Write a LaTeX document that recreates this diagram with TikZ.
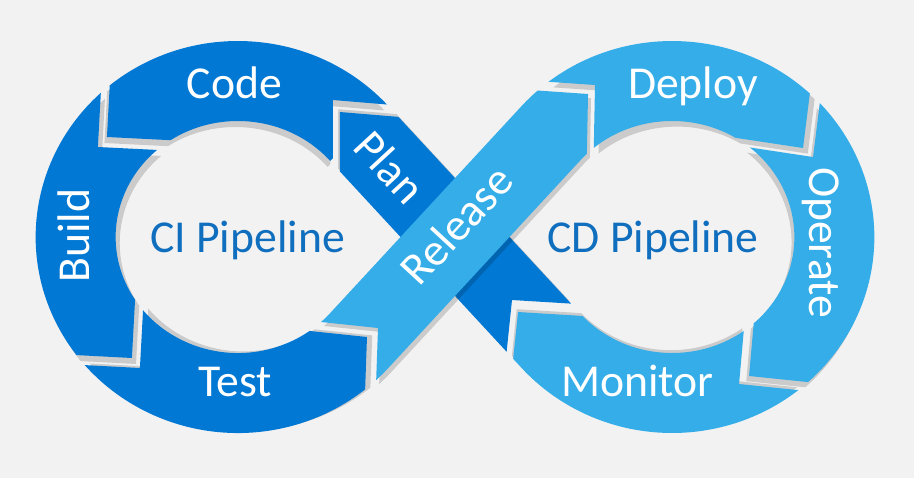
\documentclass[tikz,border=0pt]{standalone}
\usepackage{fontspec}
\setmainfont{Carlito}
\usepackage{xcolor}
\usepackage{tikz}
\usetikzlibrary{calc}

\definecolor{bg}{HTML}{F2F2F2}
\definecolor{ciblue}{HTML}{0078D4}
\definecolor{cdblue}{HTML}{35ADE8}
\definecolor{pipeblue}{HTML}{106EBE}

\tikzset{
  band/.style={line width=1.6cm, line cap=butt},
  gapshadow/.style={band, draw=black, draw opacity=.16},
  stagetext/.style={text=white, font=\fontsize{26}{30}\selectfont, inner sep=0pt},
  pipetext/.style={text=pipeblue, font=\fontsize{26}{30}\selectfont, inner sep=0pt},
}

% chevron between two stages: name, tip corner, outer leg, inner leg, gap
\newcommand\junction[5]{%
  \coordinate (#1-t) at #2;
  \coordinate (#1-n) at ($#2+#5$);
  \coordinate (#1-to) at ($(#1-t)+2.2*#3$);
  \coordinate (#1-ti) at ($(#1-t)+1.5*#4$);
  \coordinate (#1-no) at ($(#1-n)+2.2*#3$);
  \coordinate (#1-ni) at ($(#1-n)+1.5*#4$);
}
\newcommand\piece[3]{%
  \begin{scope}
    \clip #2;
    \draw[band, draw=#1] #3;
  \end{scope}}
\newcommand\pieceshadow[4]{%
  \begin{scope}[transform canvas={shift={(#1,#2)}}]
    \clip #3;
    \draw[gapshadow] #4;
  \end{scope}}

\begin{document}
\begin{tikzpicture}[x=0.02cm, y=0.02cm]
  \useasboundingbox (-455,-241) rectangle (459,237);
  \fill[bg] (-455,-241) rectangle (459,237);

  \begin{scope}[xscale=1.04]
    \coordinate (Lc) at (-208.7,0);
    \coordinate (Rc) at (208.7,0);

    \junction{pc}{(-110.6,125)}{(57.7,-5)}{(0,-60)}{(-6.7,12)}
    \junction{cb}{(-334.6,100)}{(2.9,55)}{(57.7,-3)}{(-8.7,-10)}
    \junction{bt}{(-310.6,-121)}{(-54.8,3)}{(2.9,55)}{(7.7,-10)}
    \junction{tr}{(-84.6,-100)}{(-1.9,-56)}{(-54.8,6)}{(10.6,9)}
    \junction{rd}{(127.9,143)}{(-55.8,4)}{(-1,-53)}{(6.7,9)}
    \junction{do}{(334.6,89)}{(6.7,56)}{(-70.2,11)}{(9.6,-9)}
    \junction{om}{(282.7,-139)}{(55.8,-6)}{(4.8,57)}{(-9.6,-8)}
    \junction{mp}{(60.6,-75)}{(-4.8,-48)}{(47.1,-3)}{(-5.8,12)}

    \def\planclip{(mp-no) -- (mp-n) -- (mp-ni) -- (pc-to) -- (pc-t) -- (pc-ti) -- cycle}
    \def\codeclip{(pc-no) -- (pc-n) -- (pc-ni) -- (Lc) -- (cb-ti) -- (cb-t) -- (cb-to) -- ($(Lc)+(95:400)$) -- cycle}
    \def\buildclip{(cb-no) -- (cb-n) -- (cb-ni) -- (Lc) -- (bt-ti) -- (bt-t) -- (bt-to) -- ($(Lc)+(175:400)$) -- cycle}
    \def\testclip{(bt-no) -- (bt-n) -- (bt-ni) -- (Lc) -- (tr-ti) -- (tr-t) -- (tr-to) -- ($(Lc)+(265:400)$) -- cycle}
    \def\releaseclip{(tr-no) -- (tr-n) -- (tr-ni) -- (rd-to) -- (rd-t) -- (rd-ti) -- cycle}
    \def\deployclip{(rd-no) -- (rd-n) -- (rd-ni) -- (Rc) -- (do-ti) -- (do-t) -- (do-to) -- ($(Rc)+(85:400)$) -- cycle}
    \def\operateclip{(do-no) -- (do-n) -- (do-ni) -- (Rc) -- (om-ti) -- (om-t) -- (om-to) -- ($(Rc)+(5:400)$) -- cycle}
    \def\monitorclip{(om-no) -- (om-n) -- (om-ni) -- (Rc) -- (mp-ti) -- (mp-t) -- (mp-to) -- ($(Rc)+(275:400)$) -- cycle}

    \def\planline{(Rc) ++(-120:156) arc[start angle=-120, end angle=-138.4, radius=156] -- ($(Lc)+(41.6:156)$) arc[start angle=41.6, end angle=62, radius=156]}
    \def\codeline{(Lc) ++(41.6:156) arc[start angle=41.6, end angle=160, radius=156]}
    \def\buildline{(Lc) ++(120:156) arc[start angle=120, end angle=245, radius=156]}
    \def\testline{(Lc) ++(200:156) arc[start angle=200, end angle=318.4, radius=156] -- ++(25,28.2)}
    \def\releaseline{(Lc) ++(300:156) arc[start angle=300, end angle=318.4, radius=156] -- ($(Rc)+(138.4:156)$) arc[start angle=138.4, end angle=110, radius=156]}
    \def\deployline{(Rc) ++(138.4:156) arc[start angle=138.4, end angle=15, radius=156]}
    \def\operateline{(Rc) ++(65:156) arc[start angle=65, end angle=-85, radius=156]}
    \def\monitorline{(Rc) ++(-40:156) arc[start angle=-40, end angle=-138.4, radius=156] -- ++(-40,45)}

    \foreach \sx/\sy/\clp/\ln in {-1.7/2.8/\planclip/\planline, -2.5/-6/\codeclip/\codeline,
        4.1/-6/\buildclip/\buildline, 5.2/1.6/\testclip/\testline,
        4.8/-5.6/\deployclip/\deployline, -2.8/-5.2/\operateclip/\operateline,
        -1.3/2.8/\monitorclip/\monitorline}
      {\pieceshadow{\sx}{\sy}{\clp}{\ln}}
    \foreach \col/\clp/\ln in {ciblue/\planclip/\planline, ciblue/\codeclip/\codeline,
        ciblue/\buildclip/\buildline, ciblue/\testclip/\testline,
        cdblue/\deployclip/\deployline, cdblue/\operateclip/\operateline,
        cdblue/\monitorclip/\monitorline}
      {\piece{\col}{\clp}{\ln}}
    \pieceshadow{3}{-4}{\releaseclip}{\releaseline}
    \piece{cdblue}{\releaseclip}{\releaseline}
  \end{scope}

  \node[stagetext, anchor=base] (code) at (-220.5,139) {Code};
  \node[stagetext, anchor=base] (deploy) at (238,139) {Deploy};
  \node[stagetext, anchor=base] (test) at (-220,-159) {Test};
  \node[stagetext, anchor=base] (monitor) at (182.5,-159) {Monitor};
  \node[stagetext, rotate=90] (build) at (-381,1.5) {Build};
  \node[stagetext, rotate=-90, anchor=base] (operate) at (355,-5.5) {Operate};
  \node[stagetext, rotate=-47.3] (plan) at (-65,70) {Plan};
  \node[stagetext, rotate=47.3] (release) at (1.5,12) {Release};
  \node[pipetext, anchor=base] (ci) at (-207.5,-15) {CI Pipeline};
  \node[pipetext, anchor=base] (cd) at (198,-15) {CD Pipeline};
\end{tikzpicture}
\end{document}
